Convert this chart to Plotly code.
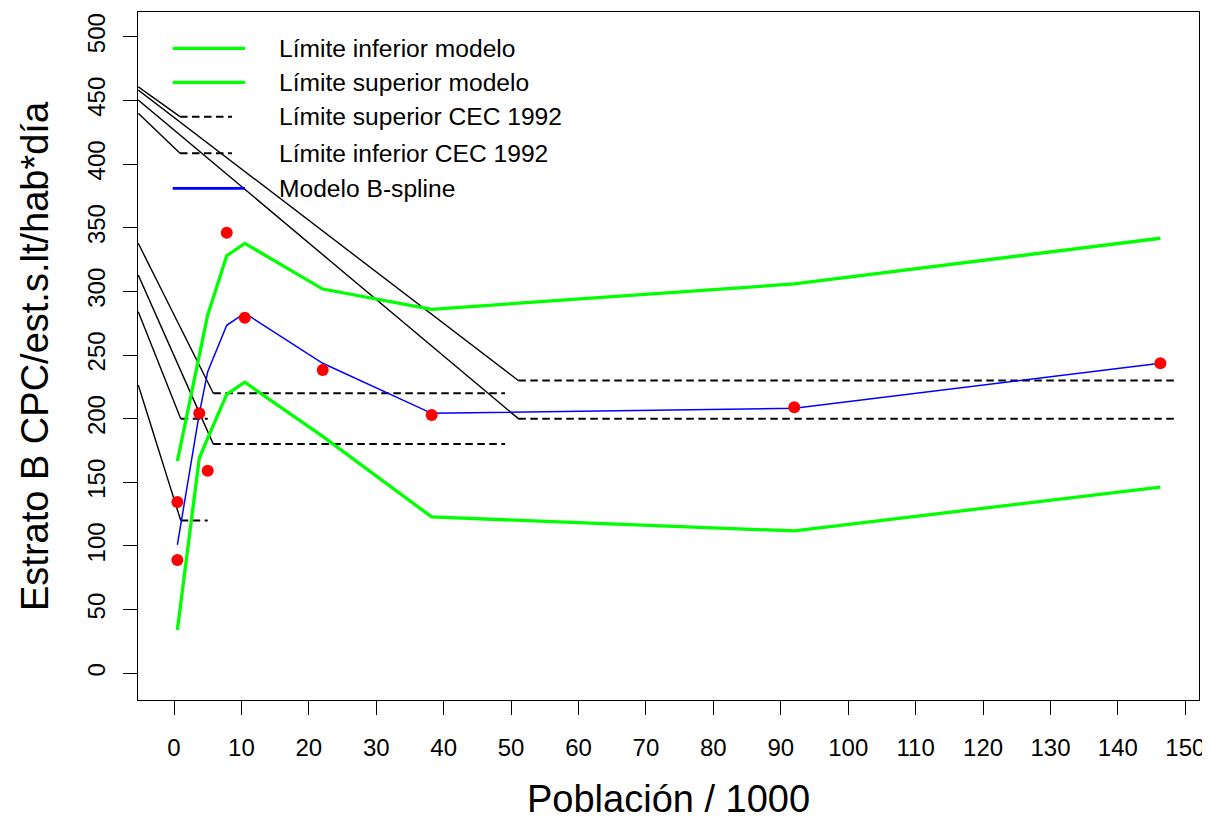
import plotly.graph_objects as go

# ---------------- data ----------------
pob_obs = [0.5, 0.5, 3.75, 5.0, 7.82, 10.5, 22.06, 38.22, 92.0, 146.3]
cpc_obs = [134.5, 89.0, 204.2, 159.1, 346.1, 279.3, 238.2, 202.9, 208.9, 243.5]

pob_mod = [0.5, 3.75, 5.0, 7.82, 10.5, 22.06, 38.22, 92.0, 146.3]
cpc_bspline = [100.8, 204.0, 236.9, 273.3, 282.8, 243.5, 204.2, 208.1, 243.5]
cpc_lim_sup = [166.7, 251.7, 281.4, 328.0, 337.7, 301.8, 285.9, 305.8, 341.7]
cpc_lim_inf = [34.0, 168.9, 184.7, 219.1, 228.6, 186.1, 122.8, 111.8, 146.3]

# CEC 1992 limits by population range (x start, x end, value)
cec_x_start = [1.0, 5.83, 51.07]
cec_x_end = [5.0, 49.1, 148.5]
cec_sup = [200, 220, 230]
cec_inf = [120, 180, 200]

# leader lines entering from the left edge (start value at left border)
leader_start_x = -5.3
leader_sup_start = [284.0, 337.7, 458.1]
leader_inf_start = [226.4, 312.8, 450.3]

legend_labels = ["Límite inferior modelo", "Límite superior modelo",
                 "Límite superior CEC 1992", "Límite inferior CEC 1992",
                 "Modelo B-spline"]
legend_y = [490.9, 464.2, 437.2, 408.4, 380.9]
legend_leader_start = [None, None, 460.7, 439.8, None]

x_ticks = list(range(0, 151, 10))
y_ticks = list(range(0, 501, 50))

FONT = "Liberation Sans, Arial, sans-serif"
GREEN = "#00FF00"
BLUE = "#0000FF"
DASH = "7.5px,4.5px"

fig = go.Figure()

# leader lines (solid black)
for xs, s, v in zip(cec_x_start, leader_sup_start, cec_sup):
    fig.add_trace(go.Scatter(x=[leader_start_x, xs], y=[s, v], mode="lines",
                             line=dict(color="black", width=1.4), showlegend=False))
for xs, s, v in zip(cec_x_start, leader_inf_start, cec_inf):
    fig.add_trace(go.Scatter(x=[leader_start_x, xs], y=[s, v], mode="lines",
                             line=dict(color="black", width=1.4), showlegend=False))

# CEC dashed limits
for xs, xe, v in zip(cec_x_start, cec_x_end, cec_sup):
    fig.add_trace(go.Scatter(x=[xs, xe], y=[v, v], mode="lines",
                             line=dict(color="black", width=2, dash=DASH), showlegend=False))
for xs, xe, v in zip(cec_x_start, cec_x_end, cec_inf):
    fig.add_trace(go.Scatter(x=[xs, xe], y=[v, v], mode="lines",
                             line=dict(color="black", width=2, dash=DASH), showlegend=False))

# model limits
fig.add_trace(go.Scatter(x=pob_mod, y=cpc_lim_sup, mode="lines",
                         line=dict(color=GREEN, width=3.3), showlegend=False))
fig.add_trace(go.Scatter(x=pob_mod, y=cpc_lim_inf, mode="lines",
                         line=dict(color=GREEN, width=3.3), showlegend=False))
# B-spline
fig.add_trace(go.Scatter(x=pob_mod, y=cpc_bspline, mode="lines",
                         line=dict(color=BLUE, width=1.5), showlegend=False))
# observations
fig.add_trace(go.Scatter(x=pob_obs, y=cpc_obs, mode="markers",
                         marker=dict(color="#FF0000", size=12, line=dict(width=0)),
                         showlegend=False))

# ---------------- legend (R style, no box) ----------------
leg_sample_x = [-0.19, 10.53]
leg_dash_x = [0.89, 8.6]
leg_styles = [dict(color=GREEN, width=3.3), dict(color=GREEN, width=3.3),
              dict(color="black", width=2, dash=DASH), dict(color="black", width=2, dash=DASH),
              dict(color=BLUE, width=2.6)]
for i, (lab, ly, st) in enumerate(zip(legend_labels, legend_y, leg_styles)):
    xs = leg_dash_x if "dash" in st else leg_sample_x
    fig.add_trace(go.Scatter(x=xs, y=[ly, ly], mode="lines", line=st, showlegend=False))
    if legend_leader_start[i] is not None:
        fig.add_trace(go.Scatter(x=[leader_start_x, xs[0]], y=[legend_leader_start[i], ly],
                                 mode="lines", line=dict(color="black", width=1.4),
                                 showlegend=False))
    fig.add_annotation(x=15.3, y=ly, text=lab, showarrow=False, xanchor="left",
                       yanchor="middle", font=dict(family=FONT, size=24.6, color="black"))

# axis titles
fig.add_annotation(xref="paper", yref="paper", x=0.5, y=0, yanchor="middle",
                   yshift=-99, text="Población / 1000", showarrow=False,
                   font=dict(family=FONT, size=38, color="black"))
fig.add_annotation(xref="paper", yref="paper", x=0, y=0.5, xanchor="center",
                   xshift=-103, textangle=-90, text="Estrato B CPC/est.s.lt/hab*día",
                   showarrow=False, font=dict(family=FONT, size=38, color="black"))

# page body has an 8px margin: figure is sized/offset to compensate
fig.update_layout(
    width=1202, height=812, autosize=False,
    margin=dict(l=130, r=11, t=4, b=120),
    paper_bgcolor="white", plot_bgcolor="white",
    font=dict(family=FONT, size=24, color="black"),
    showlegend=False,
)
fig.update_xaxes(range=[-5.34, 152.03], tickvals=x_ticks, ticks="outside", ticklen=14,
                 tickwidth=1, tickcolor="black", showline=True, linecolor="black",
                 linewidth=1, mirror=True, showgrid=False, zeroline=False,
                 tickfont=dict(family=FONT, size=24), ticklabelstandoff=12)
fig.update_yaxes(range=[-20.97, 519.4], tickvals=y_ticks, ticks="outside", ticklen=14,
                 tickwidth=1, tickcolor="black", showline=True, linecolor="black",
                 linewidth=1, mirror=True, showgrid=False, zeroline=False,
                 tickangle=-90, tickfont=dict(family=FONT, size=24), ticklabelstandoff=8)

fig.write_html("out.html")
